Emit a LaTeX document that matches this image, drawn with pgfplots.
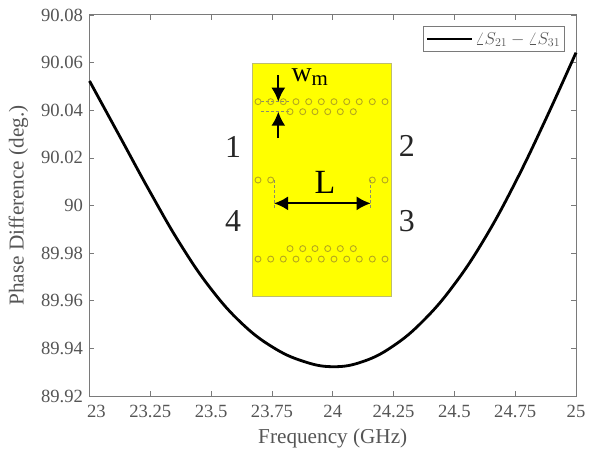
\documentclass[border=0pt]{standalone}
\usepackage{pgfplots}
\pgfplotsset{compat=1.18}
\usepackage{fontspec}
\setmainfont{Liberation Serif}
\usetikzlibrary{arrows.meta}
\definecolor{axisgray}{HTML}{7A7A7A}
\definecolor{textgray}{HTML}{555555}
\definecolor{viaolive}{HTML}{B5A81E}
\definecolor{dashgray}{HTML}{8A8A70}
\definecolor{boardyellow}{HTML}{FFFF00}
\definecolor{boardedge}{HTML}{BDBD70}
\newcommand{\fs}[1]{\fontsize{#1}{#1}\selectfont}
\begin{document}
\begin{tikzpicture}[x=1bp,y=1bp]
\path[use as bounding box] (-89.5bp,-57bp) rectangle (503.5bp,396bp);
\begin{axis}[
  at={(0,0)}, anchor=south west, scale only axis,
  width=486.5bp, height=381bp,
  xmin=23, xmax=25, ymin=89.92, ymax=90.08,
  xtick={23,23.25,23.5,23.75,24,24.25,24.5,24.75,25},
  xticklabels={\hspace{14bp}23,23.25,23.5,23.75,24,24.25,24.5,24.75,25\hspace{14bp}},
  ytick={89.92,89.94,89.96,89.98,90,90.02,90.04,90.06,90.08},
  yticklabels={89.92,89.94,89.96,89.98,90,90.02,90.04,90.06,90.08},
  tick align=inside, major tick length=5bp,
  tick style={axisgray,line width=0.7bp},
  axis line style={axisgray,line width=1bp},
  ticklabel style={font=\fs{18.7}, text=textgray},
  xticklabel style={yshift=-6bp},
  yticklabel style={xshift=-3bp},
  xlabel={Frequency (GHz)}, ylabel={Phase Difference (deg.)},
  label style={font=\fs{21.3}, text=textgray},
  xlabel style={at={(0.5,0)},anchor=center,yshift=-42bp},
  ylabel style={at={(0,0.5)},anchor=center,yshift=71bp},
  legend style={at={(0.9774,0.971)},anchor=north east,draw=axisgray,line width=0.8bp,
    font=\fs{18},text=textgray,inner xsep=2.5bp,inner ysep=4bp,
    /tikz/every even column/.append style={column sep=2bp}},
  legend cell align=left,
  legend image code/.code={\draw[#1,line width=2.8bp] (0bp,0bp) -- (45bp,0bp);},
  clip=false,
]
\addplot[black,line width=2.8bp,smooth,tension=0.7] coordinates {
(23.000,90.0523)(23.125,90.0289)(23.250,90.0055)(23.375,89.9835)(23.500,89.9649)
(23.625,89.9506)(23.750,89.9407)(23.875,89.9347)(24.000,89.9323)(24.125,89.9345)
(24.250,89.9411)(24.375,89.9519)(24.500,89.9669)(24.625,89.9862)(24.750,90.0096)
(24.875,90.0361)(25.000,90.0642)};
\addlegendentry{$\angle S_{21}-\angle S_{31}$}
% inset board
\addplot[forget plot,fill=boardyellow,draw=boardedge,line width=0.8bp] coordinates {
(23.668,90.0598)(24.2415,90.0598)(24.2415,89.9617)(23.668,89.9617)} -- cycle;
% vias
\addplot[forget plot,only marks,mark=o,mark size=3bp,mark options={draw=viaolive,line width=0.9bp,fill=none}] coordinates {
(23.6927,90.0436)(23.7449,90.0436)(23.7967,90.0436)(23.8489,90.0436)(23.9011,90.0436)(23.9529,90.0436)
(24.0051,90.0436)(24.0574,90.0436)(24.1091,90.0436)(24.1626,90.0436)(24.2148,90.0436)
(23.8243,90.0394)(23.8765,90.0394)(23.9270,90.0394)(23.9793,90.0394)(24.0311,90.0394)(24.0845,90.0394)
(23.6927,90.0107)(23.7449,90.0107)(24.1626,90.0107)(24.2148,90.0107)
(23.8243,89.9819)(23.8765,89.9819)(23.9270,89.9819)(23.9793,89.9819)(24.0311,89.9819)(24.0845,89.9819)
(23.6927,89.9775)(23.7449,89.9775)(23.7967,89.9775)(23.8489,89.9775)(23.9011,89.9775)(23.9529,89.9775)
(24.0051,89.9775)(24.0574,89.9775)(24.1091,89.9775)(24.1626,89.9775)(24.2148,89.9775)};
% dashed guides
\addplot[forget plot,dashgray,densely dashed,line width=0.9bp] coordinates {(23.705,90.0436)(23.8243,90.0436)};
\addplot[forget plot,dashgray,densely dashed,line width=0.9bp] coordinates {(23.705,90.0394)(23.8243,90.0394)};
\addplot[forget plot,dashgray,densely dashed,line width=0.9bp] coordinates {(23.7585,90.0107)(23.7585,89.9990)};
\addplot[forget plot,dashgray,densely dashed,line width=0.9bp] coordinates {(24.1560,90.0107)(24.1560,89.9990)};
% arrows
\addplot[forget plot,black,line width=2bp,-{Latex[length=14bp,width=14bp]}] coordinates {(23.7762,90.0548)(23.7762,90.0436)};
\addplot[forget plot,black,line width=2bp,-{Latex[length=14bp,width=14bp]}] coordinates {(23.7762,90.0283)(23.7762,90.0394)};
\addplot[forget plot,black,line width=2bp,{Latex[length=14bp,width=14bp]}-{Latex[length=14bp,width=14bp]}] coordinates {(23.7585,90.0009)(24.1560,90.0009)};
% labels
\node[font=\fs{28},text=black,anchor=center] at (axis cs:23.9065,90.0540) {w\textsubscript{\fs{21}m}};
\node[font=\fs{32},text=black!85] at (axis cs:23.59,90.0246) {1};
\node[font=\fs{32},text=black!85] at (axis cs:24.305,90.025) {2};
\node[font=\fs{32},text=black!85] at (axis cs:23.59,89.9935) {4};
\node[font=\fs{32},text=black!85] at (axis cs:24.305,89.9935) {3};
\node[font=\fs{34},text=black] at (axis cs:23.968,90.0099) {L};
\end{axis}
\end{tikzpicture}
\end{document}
